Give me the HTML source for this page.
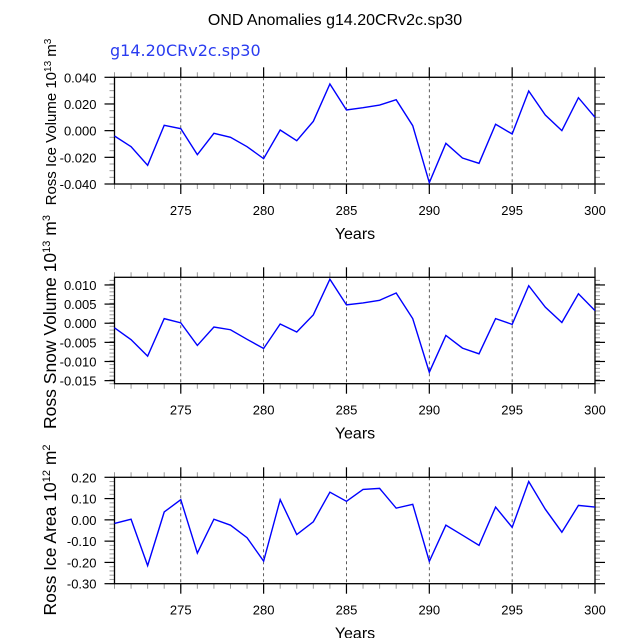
<!DOCTYPE html>
<html><head><meta charset="utf-8"><style>
body{margin:0;background:#fff;}
svg{display:block;font-family:"Liberation Sans",sans-serif;}
</style></head><body>
<svg id="c" width="638" height="638" viewBox="0 0 638 638">
<text x="335" y="25" text-anchor="middle" font-size="16">OND Anomalies g14.20CRv2c.sp30</text>
<text x="110" y="56" font-size="16" fill="#2a3cf0" font-family="DejaVu Sans, sans-serif">g14.20CRv2c.sp30</text>
</svg>
<script>
const years = [271,272,273,274,275,276,277,278,279,280,281,282,283,284,285,286,287,288,289,290,291,292,293,294,295,296,297,298,299,300];
const iceVolume = [-0.004,-0.012,-0.026,0.004,0.0015,-0.018,-0.002,-0.005,-0.012,-0.021,0.0005,-0.0075,0.007,0.035,0.0155,0.0172,0.0192,0.0232,0.0037,-0.039,-0.0095,-0.0205,-0.0245,0.0048,-0.0025,0.0297,0.0117,0.0,0.0247,0.010];
const snowVolume = [-0.0012,-0.0043,-0.0086,0.0012,0.0001,-0.0058,-0.001,-0.0017,-0.0042,-0.0066,-0.0002,-0.0023,0.0022,0.0115,0.0048,0.0053,0.006,0.0079,0.0012,-0.0128,-0.0032,-0.0065,-0.008,0.0012,-0.0003,0.0098,0.0042,0.0002,0.0077,0.0033];
const iceArea = [-0.017,0.003,-0.215,0.037,0.095,-0.156,0.003,-0.025,-0.084,-0.194,0.095,-0.069,-0.009,0.13,0.087,0.143,0.148,0.055,0.073,-0.195,-0.025,-0.072,-0.12,0.06,-0.035,0.18,0.05,-0.058,0.068,0.06];
const xTicks = [275,280,285,290,295,300];
const iceTicks = [0.04,0.02,0,-0.02,-0.04];
const snowTicks = [0.01,0.005,0,-0.005,-0.01,-0.015];
const areaTicks = [0.2,0.1,0,-0.1,-0.2,-0.3];

const svg = document.getElementById('c');
const NS = 'http://www.w3.org/2000/svg';
function mk(tag, attrs, parent){const e=document.createElementNS(NS,tag);for(const k in attrs)e.setAttribute(k,attrs[k]);(parent||svg).appendChild(e);return e;}

const X0=114.5, X1=595, XMIN=271, XMAX=300;
const xs = v => X0 + (v-XMIN)/(XMAX-XMIN)*(X1-X0);

function panel(key, top, bot, ymin, ymax, ticks, minorStep, dec, vals, ylabelParts, labelCy, labelFs){
  const ys = v => bot - (v-ymin)/(ymax-ymin)*(bot-top);
  const g = mk('g',{});
  
  
  xTicks.forEach(t=>{ if(t<XMAX){
    const l=mk('line',{x1:xs(t),x2:xs(t),y1:top,y2:bot,stroke:'#333','stroke-width':0.8,'stroke-dasharray':'3,3'},g);
    
    
  }});
  years.forEach(y=>{
    [[top,top-5],[bot,bot+5]].forEach(p=>{
      const l=mk('line',{x1:xs(y),x2:xs(y),y1:p[0],y2:p[1],stroke:'#999','stroke-width':1},g);
      
      
    });
  });
  const n=Math.round((ymax-ymin)/minorStep);
  for(let i=0;i<=n;i++){
    const v=ymin+i*minorStep, yy=ys(v);
    if(yy<top-0.5||yy>bot+0.5)continue;
    [[X0,X0-5],[X1,X1+5]].forEach(p=>{
      const l=mk('line',{x1:p[0],x2:p[1],y1:yy,y2:yy,stroke:'#999','stroke-width':1},g);
      
      
    });
  }
  xTicks.forEach(t=>{
    [[top,top-10],[bot,bot+10]].forEach(p=>{
      const l=mk('line',{x1:xs(t),x2:xs(t),y1:p[0],y2:p[1],stroke:'#000','stroke-width':1.2},g);
      
      
    });
    const tx=mk('text',{x:xs(t),y:bot+31,'text-anchor':'middle','font-size':13},g);
    
    
    tx.textContent=t;
  });
  ticks.forEach(t=>{
    const yy=ys(t);
    [[X0,X0-10],[X1,X1+10]].forEach(p=>{
      const l=mk('line',{x1:p[0],x2:p[1],y1:yy,y2:yy,stroke:'#000','stroke-width':1.2},g);
      
      
    });
    const tx=mk('text',{x:X0-18,y:yy+5,'text-anchor':'end','font-size':13},g);
    
    
    tx.textContent=t.toFixed(dec);
  });
  const r=mk('rect',{x:X0,y:top,width:X1-X0,height:bot-top,fill:'none',stroke:'#000','stroke-width':1.3},g);
  
  
  const pl=mk('polyline',{points:years.map((y,i)=>xs(y)+','+ys(vals[i])).join(' '),fill:'none',stroke:'#0000ff','stroke-width':1.4},g);
  
  
  const xt=mk('text',{x:355,y:bot+55,'text-anchor':'middle','font-size':16},g);
  
  
  xt.textContent='Years';
  const yt=mk('text',{x:0,y:0,'text-anchor':'middle','font-size':labelFs,transform:'translate(56,'+labelCy+') rotate(-90)'},g);
  
  
  yt.innerHTML=ylabelParts;
}
panel('ice-volume',77.3,184,-0.04,0.04,iceTicks,0.005,3,iceVolume,'Ross Ice Volume 10<tspan baseline-shift="super" font-size="10">13</tspan> m<tspan baseline-shift="super" font-size="10">3</tspan>',122,15);
panel('snow-volume',277.3,383.7,-0.0158,0.012,snowTicks,0.001,3,snowVolume,'Ross Snow Volume 10<tspan baseline-shift="super" font-size="11">13</tspan> m<tspan baseline-shift="super" font-size="11">3</tspan>',322,17.5);
panel('ice-area',477.3,583.7,-0.3,0.2,areaTicks,0.02,2,iceArea,'Ross Ice Area 10<tspan baseline-shift="super" font-size="11">12</tspan> m<tspan baseline-shift="super" font-size="11">2</tspan>',530,17.5);
</script>
</body></html>
